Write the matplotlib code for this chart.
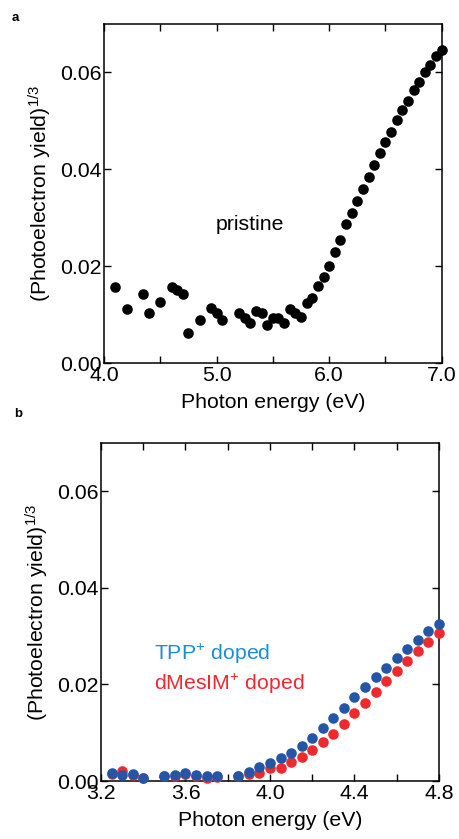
import numpy as np
import matplotlib
matplotlib.use("Agg")
import matplotlib.pyplot as plt

plt.rcParams['font.family'] = ['Liberation Sans', 'DejaVu Sans']
plt.rcParams['mathtext.fontset'] = 'custom'
plt.rcParams['mathtext.rm'] = 'Liberation Sans'
plt.rcParams['mathtext.it'] = 'Liberation Sans:italic'
plt.rcParams['mathtext.bf'] = 'Liberation Sans:bold'

# panel a: pristine
energy_a = [4.10, 4.20, 4.35, 4.40, 4.50, 4.60, 4.65, 4.70, 4.75, 4.85,
            4.95, 5.00, 5.05, 5.20, 5.25, 5.30, 5.35, 5.40, 5.45, 5.50,
            5.55, 5.60, 5.65, 5.70, 5.75, 5.80, 5.85, 5.90, 5.95, 6.00,
            6.05, 6.10, 6.15, 6.20, 6.25, 6.30, 6.35, 6.40, 6.45, 6.50,
            6.55, 6.60, 6.65, 6.70, 6.75, 6.80, 6.85, 6.90, 6.95, 7.00]
yield_a = [0.0158, 0.0111, 0.0143, 0.0104, 0.0126, 0.0158, 0.0151, 0.0143, 0.0063, 0.0089,
           0.0113, 0.0103, 0.0088, 0.0103, 0.0092, 0.0083, 0.0108, 0.0104, 0.0079, 0.0092,
           0.0092, 0.0082, 0.0111, 0.0103, 0.0095, 0.0124, 0.0135, 0.0160, 0.0177, 0.0201,
           0.0229, 0.0254, 0.0287, 0.0309, 0.0334, 0.0360, 0.0385, 0.0408, 0.0434, 0.0456,
           0.0478, 0.0501, 0.0522, 0.0542, 0.0563, 0.0581, 0.0600, 0.0616, 0.0634, 0.0646]

# panel b: doped films
energy_b = [3.25, 3.30, 3.35, 3.40, 3.50, 3.55, 3.60, 3.65, 3.70, 3.75,
            3.85, 3.90, 3.95, 4.00, 4.05, 4.10, 4.15, 4.20, 4.25, 4.30,
            4.35, 4.40, 4.45, 4.50, 4.55, 4.60, 4.65, 4.70, 4.75, 4.80]
yield_tpp = [0.0016, 0.0012, 0.0014, 0.0006, 0.0011, 0.0012, 0.0016, 0.0012, 0.0010, 0.0010,
             0.0011, 0.0019, 0.0030, 0.0037, 0.0047, 0.0059, 0.0073, 0.0090, 0.0109, 0.0130,
             0.0152, 0.0174, 0.0194, 0.0216, 0.0235, 0.0254, 0.0273, 0.0292, 0.0310, 0.0325]
yield_dmesim = [0.0015, 0.0021, 0.0013, 0.0006, 0.0010, 0.0011, 0.0014, 0.0011, 0.0007, 0.0009,
                0.0010, 0.0014, 0.0016, 0.0027, 0.0027, 0.0040, 0.0050, 0.0064, 0.0080, 0.0097,
                0.0118, 0.0140, 0.0162, 0.0185, 0.0208, 0.0228, 0.0249, 0.0270, 0.0288, 0.0306]

FS = 15.3
MS = 58

fig = plt.figure(figsize=(4.59, 8.39), dpi=100)
ax_a = fig.add_axes([0.2266, 0.5673, 0.7357, 0.4041])
ax_b = fig.add_axes([0.2200, 0.0691, 0.7364, 0.4029])


def style(ax):
    for s in ax.spines.values():
        s.set_linewidth(1.1)
    ax.tick_params(which='both', direction='in', top=True, right=True,
                   length=5, width=1.0, labelsize=FS, pad=2)
    ax.set_ylim(0, 0.07)
    ax.set_yticks([0.00, 0.02, 0.04, 0.06])
    ax.set_yticklabels(['0.00', '0.02', '0.04', '0.06'])
    ax.set_xlabel('Photon energy (eV)', fontsize=FS, labelpad=6)
    ax.set_ylabel('(Photoelectron yield)$^{1/3}$', fontsize=FS, labelpad=4)


ax_a.scatter(energy_a, yield_a, s=MS, color='black', linewidths=0, clip_on=False, zorder=3)
style(ax_a)
ax_a.set_xlim(4.0, 7.0)
ax_a.set_xticks([4.0, 5.0, 6.0, 7.0])
ax_a.set_xticklabels(['4.0', '5.0', '6.0', '7.0'])
ax_a.set_xticks([4.5, 5.5, 6.5], minor=True)
ax_a.text(5.30, 0.0285, 'pristine', fontsize=FS, ha='center', va='center')

ax_b.scatter(energy_b, yield_dmesim, s=MS, color='#ee2a2e', linewidths=0, clip_on=False, zorder=3)
ax_b.scatter(energy_b, yield_tpp, s=MS, color='#2456a8', linewidths=0, clip_on=False, zorder=4)
style(ax_b)
ax_b.set_xlim(3.2, 4.8)
ax_b.set_xticks([3.2, 3.6, 4.0, 4.4, 4.8])
ax_b.set_xticklabels(['3.2', '3.6', '4.0', '4.4', '4.8'])
ax_b.set_xticks([3.4, 3.8, 4.2, 4.6], minor=True)
ax_b.text(3.452, 0.0264, 'TPP$^{+}$ doped', fontsize=FS, color='#1a8ed8', ha='left', va='center')
ax_b.text(3.452, 0.0200, 'dMesIM$^{+}$ doped', fontsize=FS, color='#ee2a2e', ha='left', va='center')

fig.text(15 / 459, 1 - 18 / 839, 'a', fontsize=9.5, fontweight='bold', ha='center', va='center')
fig.text(18 / 459, 1 - 414 / 839, 'b', fontsize=9.5, fontweight='bold', ha='center', va='center')

fig.savefig('out.png', dpi=100)
